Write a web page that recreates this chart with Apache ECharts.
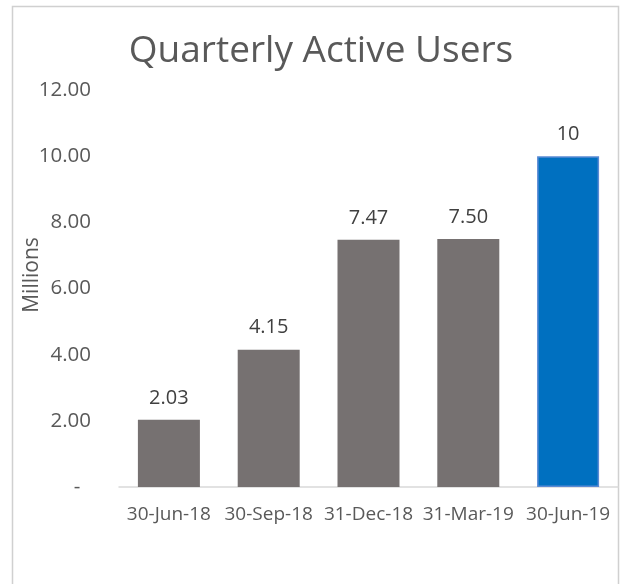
<!DOCTYPE html>
<html>
<head>
<meta charset="utf-8">
<script src="https://cdn.jsdelivr.net/npm/echarts@6/dist/echarts.min.js"></script>
<style>
html,body{margin:0;padding:0;background:#fff;}
#chart{width:624px;height:584px;}
</style>
</head>
<body>
<div id="chart"></div>
<script>
const categories = ['30-Jun-18', '30-Sep-18', '31-Dec-18', '31-Mar-19', '30-Jun-19'];
const values = [2.03, 4.15, 7.47, 7.50, 10];
const valueLabels = ['2.03', '4.15', '7.47', '7.50', '10'];
const barColors = ['#767171', '#767171', '#767171', '#767171', '#0070C0'];
const yTicks = [0, 2, 4, 6, 8, 10, 12];

const chart = echarts.init(document.getElementById('chart'), null, {renderer: 'canvas'});
const FONT = '"Open Sans", sans-serif';
const TXT = '#595959';

chart.setOption({
  backgroundColor: '#ffffff',
  animation: false,
  title: {
    text: 'Quarterly Active Users',
    left: 316,
    textAlign: 'center',
    top: 28,
    textStyle: {fontFamily: FONT, fontSize: 37, fontWeight: 'normal', color: TXT}
  },
  graphic: [
    {type: 'rect', shape: {x: 12.5, y: 6.5, width: 606, height: 600},
     style: {fill: 'none', stroke: '#d0d0d0', lineWidth: 1.5}, silent: true},
    {type: 'text', x: 32, y: 275, rotation: Math.PI / 2,
     style: {text: 'Millions', fontFamily: FONT, fontSize: 21, fill: TXT,
             align: 'center', verticalAlign: 'middle'}}
  ],
  grid: {left: 119, right: 6, top: 90, bottom: 97, containLabel: false},
  xAxis: {
    type: 'category',
    data: categories,
    axisLine: {lineStyle: {color: '#d9d9d9', width: 1.5}},
    axisTick: {show: false},
    axisLabel: {fontFamily: FONT, fontSize: 19, color: TXT, margin: 18, interval: 0}
  },
  yAxis: {
    type: 'value',
    min: yTicks[0],
    max: yTicks[yTicks.length - 1],
    interval: 2,
    axisLine: {show: false},
    axisTick: {show: false},
    splitLine: {show: false},
    axisLabel: {
      fontFamily: FONT, fontSize: 20.5, color: TXT, margin: 28,
      formatter: v => v === 0 ? '-  ' : v.toFixed(2)
    }
  },
  series: [{
    type: 'bar',
    barWidth: 62,
    data: values.map((v, i) => ({
      value: v,
      itemStyle: i === values.length - 1
        ? {color: barColors[i], borderColor: '#5a8ad4', borderWidth: 1.5}
        : {color: barColors[i]},
      label: {formatter: valueLabels[i]}
    })),
    label: {
      show: true, position: 'top', distance: 12,
      fontFamily: FONT, fontSize: 20, color: '#404040'
    }
  }]
});
</script>
</body>
</html>
